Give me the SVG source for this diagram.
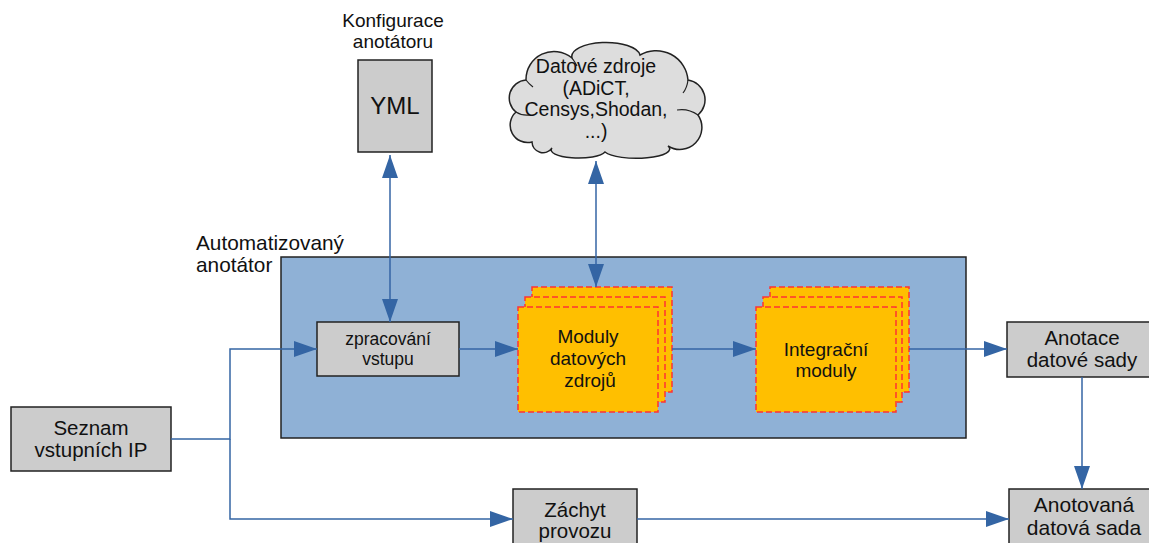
<svg xmlns="http://www.w3.org/2000/svg" width="1149" height="543" viewBox="0 0 1149 543">
<style>
text{font-family:"Liberation Sans",Arial,sans-serif;fill:#111;text-anchor:middle}
.box{fill:#cccccc;stroke:#222;stroke-width:1.5}
.mod{fill:#ffbf00;stroke:#ff3333;stroke-width:1.5;stroke-dasharray:6 3}
.con{fill:none;stroke:#3465a4;stroke-width:1.5}
</style>
<defs>
<marker id="ah" markerUnits="userSpaceOnUse" markerWidth="23" markerHeight="16" refX="23" refY="8" orient="auto-start-reverse" viewBox="0 0 23 16">
<path d="M0,0 L23,8 L0,16 z" fill="#3465a4"/>
</marker>
</defs>
<rect width="1149" height="543" fill="#fff"/>

<g id="annotator">
<rect x="281" y="257" width="685" height="181" fill="#8fb1d6" stroke="#222" stroke-width="1.5"/>
<text x="196" y="250" style="text-anchor:start" font-size="20.8">Automatizovaný</text>
<text x="196" y="272" style="text-anchor:start" font-size="20.8">anotátor</text>
</g>

<g id="yml">
<text x="393" y="27" font-size="19">Konfigurace</text>
<text x="393" y="48" font-size="19">anotátoru</text>
<rect class="box" x="358" y="60" width="74" height="92"/>
<text x="395" y="114" font-size="24">YML</text>
</g>

<g id="cloud">
<path d="M532 142 A17.5 17.5 0 0 1 516 112 A18 18 0 0 1 526 80 A28 28 0 0 1 572 58 A34 14 0 0 1 640 55 A32 32 0 0 1 688 80 A20 20 0 0 1 698 115 A22 22 0 0 1 668 146 A32 9 0 0 1 605 152 A27 8 0 0 1 552 148 A11 11 0 0 1 532 142 Z" fill="#dddddd" stroke="#222" stroke-width="1.5"/>
<path d="M516 112 Q522 116 530 115 M688 80 Q687 88 683 93 M698 115 Q688 108 677 110 M526 80 Q529 84 533 87 M572 58 Q575 62 577 66" fill="none" stroke="#222" stroke-width="1.2"/>
<text x="596" y="73" font-size="19.5">Datové zdroje</text>
<text x="596" y="95" font-size="19.5">(ADiCT,</text>
<text x="596" y="116" font-size="19.5">Censys,Shodan,</text>
<text x="596" y="138" font-size="19.5">...)</text>
</g>

<g id="zpracovani">
<rect class="box" x="317" y="322" width="142" height="54"/>
<text x="388" y="345" font-size="17.5">zpracování</text>
<text x="388" y="365" font-size="17.5">vstupu</text>
</g>

<g id="moduly">
<rect class="mod" x="532" y="287" width="140" height="105"/>
<rect class="mod" x="525" y="297" width="140" height="105"/>
<rect class="mod" x="518" y="307" width="140" height="105"/>
<text x="588" y="343" font-size="19">Moduly</text>
<text x="588" y="365" font-size="19">datových</text>
<text x="590" y="387" font-size="19">zdrojů</text>
</g>

<g id="integracni">
<rect class="mod" x="770" y="287" width="139" height="105"/>
<rect class="mod" x="763" y="297" width="139" height="105"/>
<rect class="mod" x="756" y="307" width="140" height="105"/>
<text x="826" y="356" font-size="19">Integrační</text>
<text x="826" y="377" font-size="19">moduly</text>
</g>

<g id="seznam">
<rect class="box" x="11" y="407" width="160" height="64"/>
<text x="91" y="435" font-size="20.5">Seznam</text>
<text x="91" y="457" font-size="20.5">vstupních IP</text>
</g>

<g id="zachyt">
<rect class="box" x="513" y="489" width="124" height="60"/>
<text x="575" y="517" font-size="20.5">Záchyt</text>
<text x="575" y="538" font-size="20.5">provozu</text>
</g>

<g id="anotace">
<rect class="box" x="1007" y="322" width="148" height="55"/>
<text x="1082" y="345" font-size="20.5">Anotace</text>
<text x="1082" y="367" font-size="20.5">datové sady</text>
</g>

<g id="anotovana">
<rect class="box" x="1009" y="489" width="146" height="60"/>
<text x="1084" y="512" font-size="21">Anotovaná</text>
<text x="1084" y="535" font-size="21">datová sada</text>
</g>

<g id="connectors">
<path class="con" d="M171 439 H230 V349 H317" marker-end="url(#ah)"/>
<path class="con" d="M230 439 V519 H513" marker-end="url(#ah)"/>
<path class="con" d="M637 519 H1009" marker-end="url(#ah)"/>
<path class="con" d="M459 349 H518" marker-end="url(#ah)"/>
<path class="con" d="M672 349 H756" marker-end="url(#ah)"/>
<path class="con" d="M909 349 H1007" marker-end="url(#ah)"/>
<path class="con" d="M1082 377 V489" marker-end="url(#ah)"/>
<path class="con" d="M390 155 V322" marker-start="url(#ah)" marker-end="url(#ah)"/>
<path class="con" d="M596 161 V287" marker-start="url(#ah)" marker-end="url(#ah)"/>
</g>
</svg>
